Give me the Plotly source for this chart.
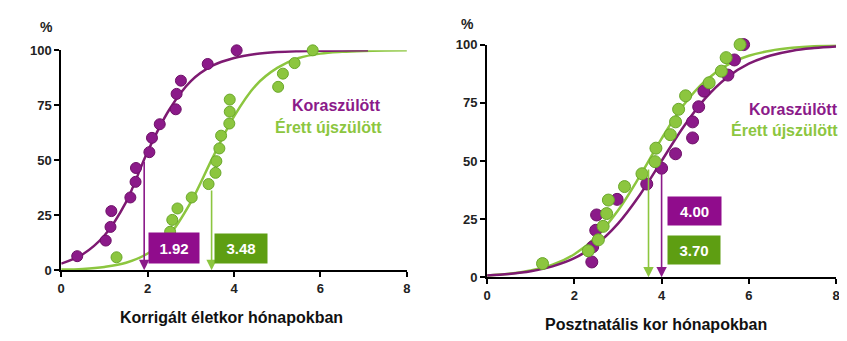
import plotly.graph_objects as go

# ---------------- data ----------------
# Left panel: corrected age (months)
L_pre_x = [0.37, 1.03, 1.14, 1.16, 1.60, 1.72, 1.73, 2.04, 2.10, 2.28, 2.65, 2.67, 2.77, 3.39, 4.06]
L_pre_y = [6.4, 13.5, 19.7, 26.9, 33.1, 40.2, 46.5, 53.7, 60.2, 66.4, 73.2, 80.2, 86.2, 93.8, 100]
L_term_x = [1.28, 2.52, 2.57, 2.69, 3.02, 3.41, 3.57, 3.59, 3.66, 3.70, 3.89, 3.90, 3.90, 5.02, 5.13, 5.40, 5.82]
L_term_y = [5.9, 17.5, 22.9, 28.1, 33.1, 39.2, 44.3, 49.6, 55.4, 61.2, 66.7, 72.1, 77.6, 83.4, 89.4, 94.2, 100]

L_pre_curve_x = [0, 0.5, 1, 1.5, 2, 2.5, 3, 3.5, 4, 4.5, 5, 5.5, 6, 6.5, 7.1]
L_pre_curve_y = [3, 7.3, 15.8, 31, 54, 73, 86, 93, 96.5, 98.3, 99.2, 99.6, 99.8, 99.9, 100]
L_term_curve_x = [0, 0.5, 1, 1.5, 2, 2.5, 3, 3.5, 4, 4.5, 5, 5.5, 6, 6.5, 7, 7.5, 8]
L_term_curve_y = [0.3, 0.6, 1.5, 3.4, 7.6, 16, 31, 51, 70, 84, 92, 96.5, 98.5, 99.3, 99.7, 99.9, 100]

# Right panel: postnatal age (months)
R_pre_x = [2.40, 2.42, 2.49, 2.51, 2.98, 3.66, 4.00, 4.32, 4.71, 4.71, 4.85, 4.97, 5.52, 5.67, 5.88]
R_pre_y = [6.6, 13.1, 20.2, 26.8, 33.5, 40.1, 46.9, 53.1, 59.9, 66.8, 73.3, 80.0, 86.9, 93.4, 100]
R_term_x = [1.27, 2.32, 2.55, 2.66, 2.74, 2.78, 3.15, 3.55, 3.85, 3.87, 4.20, 4.32, 4.39, 4.55, 5.09, 5.37, 5.48, 5.80]
R_term_y = [5.9, 11.4, 16.1, 21.9, 27.4, 33.2, 39.0, 44.5, 49.7, 55.5, 61.3, 66.8, 72.2, 78.0, 83.6, 88.6, 94.4, 100]

R_pre_curve_x = [0, 0.5, 1, 1.5, 2, 2.5, 3, 3.5, 4, 4.5, 5, 5.5, 6, 6.5, 7, 7.5, 8]
R_pre_curve_y = [0.8, 1.45, 2.6, 4.7, 8.2, 14.1, 23.1, 35.4, 50, 64.6, 76.9, 85.9, 91.8, 95.3, 97.4, 98.5, 99.2]
R_term_curve_x = [0, 0.5, 1, 1.5, 2, 2.5, 3, 3.5, 4, 4.5, 5, 5.5, 6, 6.5, 7, 7.5, 8]
R_term_curve_y = [0.8, 1.5, 2.9, 5.4, 9.9, 17.4, 28.7, 43.5, 59.6, 73.9, 84.4, 91.2, 95.2, 97.4, 98.6, 99.3, 99.6]

medians_left = {"pre": 1.92, "term": 3.48}
medians_right = {"pre": 4.00, "term": 3.70}

x_ticks = [0, 2, 4, 6, 8]
y_ticks = [0, 25, 50, 75, 100]
label_pre = "Koraszülött"
label_term = "Érett újszülött"
xtitle_left = "Korrigált életkor hónapokban"
xtitle_right = "Posztnatális kor hónapokban"

# ---------------- styles ----------------
PURPLE = "#8B1A89"
PURPLE_LINE = "#7E1A72"
PURPLE_BOX = "#900C8C"
GREEN = "#8CC63F"
GREEN_EDGE = "#6AA82A"
GREEN_BOX = "#5E9E12"
FONT = "Liberation Sans, Arial, sans-serif"

# The page body has an 8px margin: the figure is sized to fill the rest of the window
W, H, OFF = 839, 333, 8
def px(x):
    return (x - OFF) / W
def py(y):
    return 1 - (y - OFF) / H

fig = go.Figure()

def add_panel(xa, ya, pre_cx, pre_cy, term_cx, term_cy, pre_x, pre_y, term_x, term_y, msize, term_on_top):
    common = dict(xaxis=xa, yaxis=ya, showlegend=False, hoverinfo="skip")
    fig.add_trace(go.Scatter(x=term_cx, y=term_cy, mode="lines", line=dict(color=GREEN, width=2.5, shape="spline"), **common))
    fig.add_trace(go.Scatter(x=pre_cx, y=pre_cy, mode="lines", line=dict(color=PURPLE_LINE, width=2.5, shape="spline"), **common))
    pre = go.Scatter(x=pre_x, y=pre_y, mode="markers", cliponaxis=False,
                     marker=dict(color=PURPLE, size=msize, line=dict(color="#6E1068", width=1)), **common)
    term = go.Scatter(x=term_x, y=term_y, mode="markers", cliponaxis=False,
                      marker=dict(color=GREEN, size=msize, line=dict(color=GREEN_EDGE, width=1)), **common)
    if term_on_top:
        fig.add_trace(pre); fig.add_trace(term)
    else:
        fig.add_trace(term); fig.add_trace(pre)

add_panel("x", "y", L_pre_curve_x, L_pre_curve_y, L_term_curve_x, L_term_curve_y,
          L_pre_x, L_pre_y, L_term_x, L_term_y, 11, False)
add_panel("x2", "y2", R_pre_curve_x, R_pre_curve_y, R_term_curve_x, R_term_curve_y,
          R_pre_x, R_pre_y, R_term_x, R_term_y, 12, True)

axis_common = dict(showgrid=False, zeroline=False, showline=True, linecolor="black", linewidth=2,
                   ticks="outside", tickcolor="black", tickwidth=2, ticklen=5,
                   ticklabeloverflow="allow",
                   tickfont=dict(family=FONT, size=13, color="#222", weight="bold"))

fig.update_layout(
    width=W, height=H, margin=dict(l=0, r=0, t=0, b=0),
    paper_bgcolor="white", plot_bgcolor="white", showlegend=False,
    xaxis=dict(domain=[px(57.7), px(406.7)], range=[0, 8], tickvals=x_ticks, anchor="y", **axis_common),
    yaxis=dict(domain=[py(275.3), py(45)], range=[0, 100], tickvals=y_ticks, anchor="x", **axis_common),
    xaxis2=dict(domain=[px(487.7), px(840)], range=[0, 8], tickvals=x_ticks, anchor="y2", **axis_common),
    yaxis2=dict(domain=[py(282.7), py(39)], range=[0, 100], tickvals=y_ticks, anchor="x2", **axis_common),
)

anns = []

def arrow(xref, yref, x, ytop, color):
    anns.append(dict(xref=xref, yref=yref, axref=xref, ayref=yref, x=x, y=0, ax=x, ay=ytop,
                     text="", showarrow=True, arrowhead=2, arrowsize=1.3, arrowwidth=1.6,
                     arrowcolor=color, standoff=0, startstandoff=0))

def box(xref, yref, x, y, text, color, w, h):
    anns.append(dict(xref=xref, yref=yref, x=x, y=y, text=text, showarrow=False,
                     bgcolor=color, width=w, height=h, align="center", valign="middle",
                     xanchor="center", yanchor="middle",
                     font=dict(family=FONT, size=15, color="white", weight="bold")))

def legend_txt(xref, yref, x, y, text, color):
    anns.append(dict(xref=xref, yref=yref, x=x, y=y, text=text, showarrow=False,
                     xanchor="right", yanchor="middle",
                     font=dict(family=FONT, size=16, color=color, weight="bold")))

def paper_txt(x, y, text, size, color="#111"):
    anns.append(dict(xref="paper", yref="paper", x=x, y=y, text=text, showarrow=False,
                     xanchor="center", yanchor="middle",
                     font=dict(family=FONT, size=size, color=color, weight="bold")))

# left panel
arrow("x", "y", medians_left["pre"], 50, PURPLE)
arrow("x", "y", medians_left["term"], 37, GREEN)
box("x", "y", 2.62, 10.1, f"{medians_left['pre']:.2f}", PURPLE_BOX, 48, 28)
box("x", "y", 4.16, 9.8, f"{medians_left['term']:.2f}", GREEN_BOX, 50, 27)
legend_txt("x", "y", 7.45, 74.7, label_pre, PURPLE)
legend_txt("x", "y", 7.48, 65.3, label_term, GREEN)

# right panel
arrow("x2", "y2", medians_right["term"], 47, GREEN)
arrow("x2", "y2", medians_right["pre"], 50, PURPLE)
box("x2", "y2", 4.75, 28.7, f"{medians_right['pre']:.2f}", PURPLE_BOX, 51, 26)
box("x2", "y2", 4.75, 11.9, f"{medians_right['term']:.2f}", GREEN_BOX, 50, 26)
legend_txt("paper", "paper", px(844), py(107.2), label_pre, PURPLE)
legend_txt("paper", "paper", px(844), py(128.4), label_term, GREEN)

# % labels and axis titles
paper_txt(px(43), py(21), "%", 14, "#222")
paper_txt(px(468), py(17), "%", 14, "#222")
paper_txt(px(230), py(325), xtitle_left, 16)
paper_txt(px(658), py(332), xtitle_right, 16)

fig.update_layout(annotations=anns)
fig.write_html("out.html")
